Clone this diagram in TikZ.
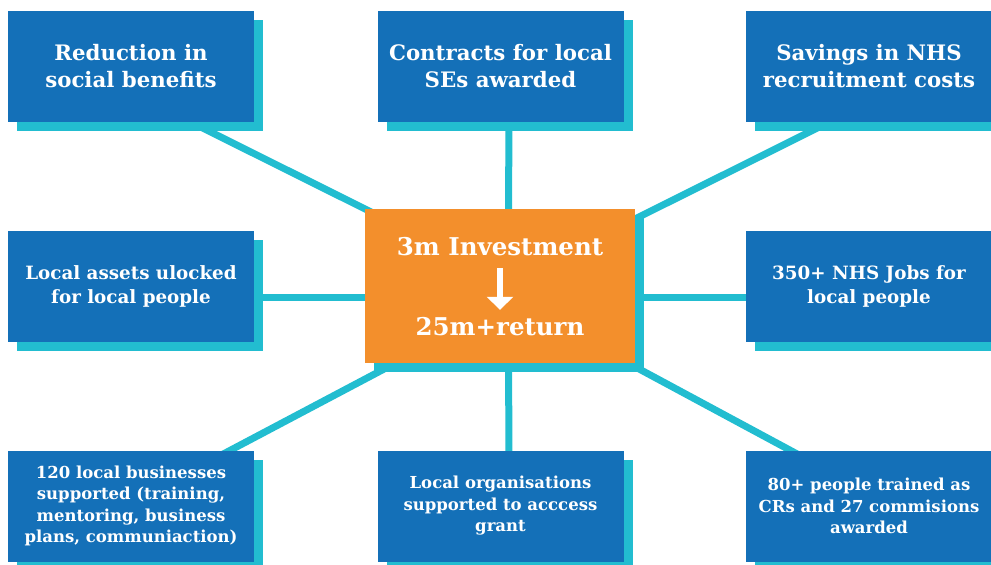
\documentclass[tikz,border=0pt]{standalone}
\usepackage{fontspec}
\setmainfont{DejaVu Serif}
\usetikzlibrary{shadows,arrows.meta,calc,backgrounds}
\definecolor{boxblue}{RGB}{20,112,184}
\definecolor{linecyan}{RGB}{34,189,208}
\definecolor{hub}{RGB}{243,143,44}
\begin{document}
\begin{tikzpicture}[x=1pt,y=-1pt,
  box/.style={fill=boxblue, minimum width=246pt, minimum height=111pt, inner sep=0pt,
    text=white, align=center, font=\bfseries,
    drop shadow={shadow xshift=9pt, shadow yshift=-9pt, fill=linecyan, opacity=1}},
  big/.style={font=\fontsize{21.3}{27}\selectfont\bfseries},
  mid/.style={font=\fontsize{18.3}{24}\selectfont\bfseries},
  small/.style={font=\fontsize{16.5}{21.5}\selectfont\bfseries},
  hubbox/.style={fill=hub, minimum width=270pt, minimum height=154pt, inner sep=0pt,
    drop shadow={shadow xshift=9pt, shadow yshift=-9pt, fill=linecyan, opacity=1}},
  hubtext/.style={text=white, inner sep=0pt, text height=17pt, text depth=0pt,
    font=\fontsize{24.5}{27}\selectfont\bfseries},
  link/.style={draw=linecyan, line width=7pt},
]
\useasboundingbox (0,0) rectangle (991,565);

\node[box, big] (tl) at (131,66.5) {Reduction in\\social benefits};
\node[box, big] (tc) at (500.5,66.5) {Contracts for local\\SEs awarded};
\node[box, big] (tr) at (869,66.5) {Savings in NHS\\recruitment costs};
\node[box, mid] (ml) at (131,286) {Local assets ulocked\\for local people};
\node[box, mid] (mr) at (869,286) {350+ NHS Jobs for\\local people};
\node[box, small] (bl) at (131,506) {120 local businesses\\supported (training,\\mentoring, business\\plans, communiaction)};
\node[box, small] (bc) at (500.5,506) {Local organisations\\supported to acccess\\grant};
\node[box, small] (br) at (869,506) {80+ people trained as\\CRs and 27 commisions\\awarded};

\node[hubbox] (c) at (500,286) {};
\node[hubtext] (inv) at (500,246.5) {3m Investment};
\node[hubtext] (ret) at (500,326.5) {25m+return};
\draw[white, line width=6pt, -{Triangle[width=26pt,length=13pt]},
  shorten <=13pt, shorten >=8pt] (inv.south) -- (ret.north);

\begin{scope}[on background layer]
\draw[link] ($(tl.south)+(40,-10)$) -- ($(c.north west)+(20,10)$);
\draw[link] ($(tc.south)+(8.5,-5)$) -- ($(c.north)+(8.5,5)$);
\draw[link] ($(tr.south)+(-20,-10)$) -- ($(c.north east)+(-10,15)$);
\draw[link] ($(ml.east)+(-5,11)$) -- ($(c.west)+(5,11)$);
\draw[link] ($(mr.west)+(5,11)$) -- ($(c.east)+(-5,11)$);
\draw[link] ($(bl.north)+(69,16)$) -- ($(c.south west)+(53,-12)$);
\draw[link] ($(bc.north)+(8.5,5)$) -- ($(c.south)+(8.5,-5)$);
\draw[link] ($(br.north)+(-49,16)$) -- ($(c.south east)+(-31,-13)$);
\end{scope}
\end{tikzpicture}
\end{document}
